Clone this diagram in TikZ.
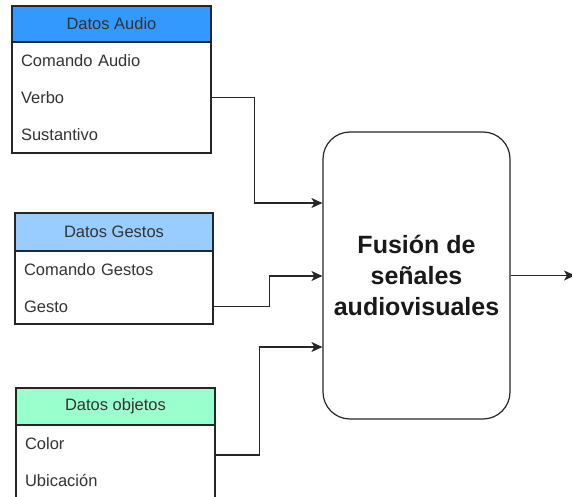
\documentclass[tikz,border=0pt]{standalone}
\usepackage{fontspec}
\setmainfont{Liberation Sans}
\usetikzlibrary{arrows.meta}
\definecolor{linec}{HTML}{262626}
\definecolor{txtc}{HTML}{333333}
\definecolor{hdraudio}{HTML}{3399FF}
\definecolor{hdrgest}{HTML}{99CCFF}
\definecolor{hdrobj}{HTML}{99FFCC}
\begin{document}
\begin{tikzpicture}[x=1pt,y=-1pt,
  hdr/.style={draw=linec, line width=1.2pt, minimum width=199pt, minimum height=#1, inner sep=0pt,
    text=txtc, font=\fontsize{16.5}{20}\selectfont},
  body/.style={draw=linec, line width=1.2pt, minimum width=199pt, minimum height=#1, inner sep=0pt, fill=white},
  rowtxt/.style={minimum width=199pt, minimum height=37pt, text width=181pt, inner xsep=9pt, inner ysep=0pt,
    align=left, text=txtc, font=\fontsize{16.5}{20}\selectfont},
  fusbox/.style={draw=linec, line width=1.2pt, rounded corners=27pt, minimum width=187pt, minimum height=287pt,
    inner sep=0pt, align=center, font=\fontsize{25}{31}\selectfont\bfseries, text=black!90},
  conn/.style={draw=linec, line width=1.3pt, -{Stealth[length=11pt,width=10pt,inset=3pt]}}
]
\useasboundingbox (0,0) rectangle (572,497);
\clip (0,0) rectangle (572,497);
% Datos Audio
\node[hdr=36pt, fill=hdraudio] (ha) at (111.5,24) {Datos Audio};
\node[body=111pt] (ba) at (111.5,97.5) {};
\node[rowtxt] (cmda) at (111.5,60.5) {Comando Audio};
\node[rowtxt] (verbo) at (111.5,97.5) {Verbo};
\node[rowtxt] (sust) at (111.5,134.5) {Sustantivo};
% Datos Gestos
\node[hdr=38pt, fill=hdrgest, minimum width=198pt] (hg) at (114,232) {Datos Gestos};
\node[body=73pt, minimum width=198pt] (bg) at (114,287.5) {};
\node[rowtxt, minimum width=198pt, text width=180pt] (cmdg) at (114,269.5) {Comando Gestos};
\node[rowtxt, minimum width=198pt, text width=180pt] (gesto) at (114,306.5) {Gesto};
% Datos objetos
\node[hdr=37pt, fill=hdrobj] (ho) at (115.5,406.5) {Datos objetos};
\node[body=80pt] (bo) at (115.5,465) {};
\node[rowtxt] (color) at (115.5,444) {Color};
\node[rowtxt] (ubic) at (115.5,481) {Ubicación};
% Fusion
\node[fusbox] (fus) at (416.5,275.5) {Fusión de\\señales\\audiovisuales};
% connectors
\coordinate (in1) at (fus.west |- 0,203);
\coordinate (in2) at (fus.west |- 0,276);
\coordinate (in3) at (fus.west |- 0,347);
\coordinate (objout) at (bo.east |- 0,455);
\coordinate (out) at (575,275.5);
\draw[conn] (verbo.east) -- ++(43,0) |- (in1);
\draw[conn] (gesto.east) -- ++(56,0) |- (in2);
\draw[conn] (objout) -- ++(44,0) |- (in3);
\draw[conn] (fus.east) -- (out);
\end{tikzpicture}
\end{document}
